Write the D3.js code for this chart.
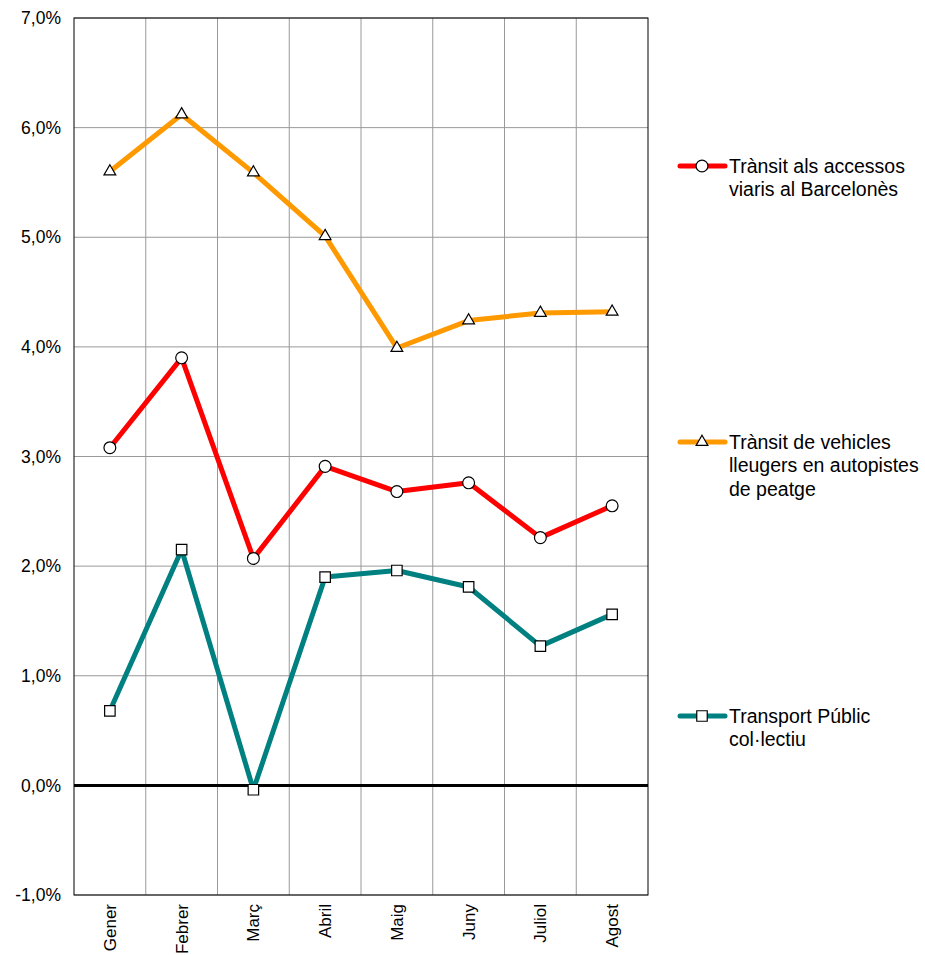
<!DOCTYPE html>
<html><head><meta charset="utf-8">
<script src="https://cdn.jsdelivr.net/npm/d3@7"></script>
<style>body{margin:0;background:#fff}text{font-family:"Liberation Sans",Arial,sans-serif}</style>
</head><body>
<svg id="c" width="925" height="955"></svg>
<script>
const months = ["Gener","Febrer","Març","Abril","Maig","Juny","Juliol","Agost"];
const transitAccessos = [3.08,3.90,2.07,2.91,2.68,2.76,2.26,2.55];
const transitAutopistes = [5.60,6.12,5.59,5.01,3.99,4.24,4.31,4.32];
const transportPublic = [0.68,2.15,-0.04,1.90,1.96,1.81,1.27,1.56];
const yTicks = [-1,0,1,2,3,4,5,6,7];
const seriesNames = [["Trànsit als accessos","viaris al Barcelonès"],["Trànsit de vehicles","lleugers en autopistes","de peatge"],["Transport Públic","col·lectiu"]];

const svg = d3.select("#c");
const L=74,R=648,T=18,B=895;
const x = d3.scaleBand().domain(months).range([L,R]);
const y = d3.scaleLinear().domain([-1,7]).range([B,T]);

// grid
svg.append("g").selectAll("line.h").data(yTicks).join("line")
  .attr("x1",L).attr("x2",R).attr("y1",d=>y(d)).attr("y2",d=>y(d))
  .attr("stroke","#999").attr("stroke-width",1);
svg.append("g").selectAll("line.v").data(months.slice(1)).join("line")
  .attr("x1",d=>x(d)).attr("x2",d=>x(d)).attr("y1",T).attr("y2",B)
  .attr("stroke","#999").attr("stroke-width",1);
svg.append("rect").attr("x",L).attr("y",T).attr("width",R-L).attr("height",B-T)
  .attr("fill","none").attr("stroke","#000").attr("stroke-width",1);
svg.append("line").attr("x1",L).attr("x2",R).attr("y1",y(0)).attr("y2",y(0))
  .attr("stroke","#000").attr("stroke-width",3);

// y axis labels
const fmt = d=>d.toFixed(1).replace(".",",")+"%";
svg.append("g").selectAll("text").data(yTicks).join("text")
  .attr("x",L-13).attr("y",d=>y(d)).attr("dy","0.35em").attr("text-anchor","end")
  .attr("font-size",17.5).text(fmt);
// x axis labels
svg.append("g").selectAll("text").data(months).join("text")
  .attr("transform",d=>`translate(${x(d)+x.bandwidth()/2+6},${B+9}) rotate(-90)`)
  .attr("text-anchor","end").attr("font-size",17).text(d=>d);

const series = [
  {vals:transitAccessos,color:"#FF0000",sym:d3.symbolCircle,size:110},
  {vals:transitAutopistes,color:"#FF9900",sym:d3.symbolTriangle,size:60},
  {vals:transportPublic,color:"#008080",sym:d3.symbolSquare,size:110}
];
const line = d3.line().x((d,i)=>x(months[i])+x.bandwidth()/2).y(d=>y(d));
series.forEach(s=>{
  svg.append("path").datum(s.vals).attr("d",line).attr("fill","none")
    .attr("stroke",s.color).attr("stroke-width",5).attr("stroke-linejoin","round");
  svg.append("g").selectAll("path").data(s.vals).join("path")
    .attr("transform",(d,i)=>`translate(${x(months[i])+x.bandwidth()/2},${y(d)})`)
    .attr("d",d3.symbol().type(s.sym).size(s.size))
    .attr("fill","#fff").attr("stroke","#000").attr("stroke-width",1.2);
});

// legend
const legY=[166,442,716];
series.forEach((s,k)=>{
  const g=svg.append("g").attr("transform",`translate(0,${legY[k]})`);
  g.append("line").attr("x1",680).attr("x2",725).attr("y1",0).attr("y2",0)
    .attr("stroke",s.color).attr("stroke-width",5).attr("stroke-linecap","round");
  g.append("path").attr("transform","translate(702,0)")
    .attr("d",d3.symbol().type(s.sym).size(s.size)).attr("fill","#fff").attr("stroke","#000").attr("stroke-width",1.2);
  g.selectAll("text").data(seriesNames[k]).join("text")
    .attr("x",729).attr("y",(d,i)=>i*23.5).attr("dy","0.35em").attr("font-size",19.5).text(d=>d);
});
</script>
</body></html>
